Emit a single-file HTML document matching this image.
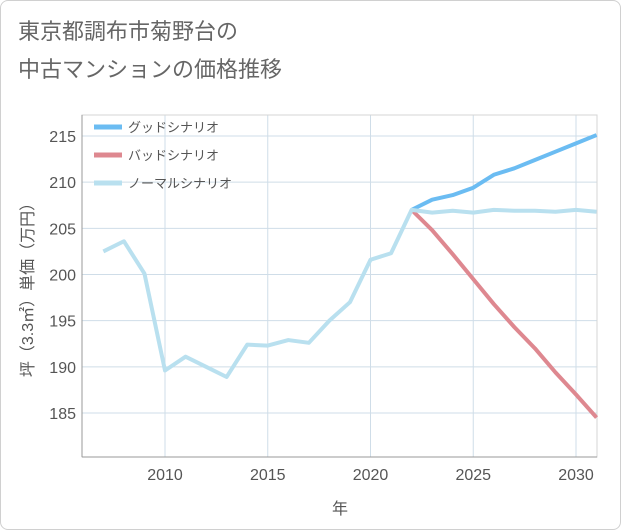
<!DOCTYPE html>
<html><head><meta charset="utf-8"><style>
body{margin:0;background:#fff;font-family:"Liberation Sans","Noto Sans CJK JP",sans-serif}
.card{position:absolute;left:0;top:0;width:619px;height:528px;border:1px solid #d0d0d0;border-radius:8px;background:#fff}
</style></head><body>
<div class="card"></div>
<svg width="621" height="530" style="position:absolute;left:0;top:0">
<text x="18" y="39" font-size="22" fill="#666">東京都調布市菊野台の</text>
<text x="18" y="77" font-size="22" fill="#666">中古マンションの価格推移</text>
<g id="grid"></g>
<rect x="82" y="115" width="515" height="342" fill="none" stroke="#d5d5d5"/>
<line x1="82" y1="115" x2="82" y2="457" stroke="#999"/>
<line x1="82" y1="457" x2="597" y2="457" stroke="#999"/>
<g id="series"></g>
<g id="ticks" font-size="16" fill="#555"></g>
<text x="340" y="514" font-size="16" fill="#555" text-anchor="middle">年</text>
<text transform="translate(33,286) rotate(-90)" font-size="16" fill="#555" text-anchor="middle">坪（3.3㎡）単価（万円）</text>
<g id="legend" font-size="13" fill="#555"></g>
</svg>
<script>
const years=[2007,2008,2009,2010,2011,2012,2013,2014,2015,2016,2017,2018,2019,2020,2021,2022,2023,2024,2025,2026,2027,2028,2029,2030,2031];
const normal=[202.5,203.6,200.1,189.6,191.1,190.0,188.9,192.4,192.3,192.9,192.6,195.0,197.0,201.6,202.3,207.0,206.7,206.9,206.7,207.0,206.9,206.9,206.8,207.0,206.8];
const goodYears=[2022,2023,2024,2025,2026,2027,2028,2029,2030,2031];
const good=[207.0,208.1,208.6,209.4,210.8,211.5,212.4,213.3,214.2,215.1];
const bad=[207.0,204.8,202.2,199.5,196.8,194.3,192.0,189.4,187.0,184.5];
const xTicks=[2010,2015,2020,2025,2030];
const yTicks=[185,190,195,200,205,210,215];
const X=y=>165+(y-2010)*20.55;
const Y=v=>136+(215-v)*9.233;
const NS="http://www.w3.org/2000/svg";
function mk(t,a,p){const e=document.createElementNS(NS,t);for(const k in a)e.setAttribute(k,a[k]);p.appendChild(e);return e;}
const grid=document.getElementById('grid'),ticks=document.getElementById('ticks');
xTicks.forEach(t=>{
 const l=mk('line',{x1:X(t),x2:X(t),y1:115,y2:457,stroke:'#cfdde8'},grid);
 
 
});
yTicks.forEach(t=>{
 const l=mk('line',{x1:82,x2:597,y1:Y(t),y2:Y(t),stroke:'#cfdde8'},grid);
 
 
});
xTicks.forEach(t=>{const e=mk('text',{x:X(t),y:480,'text-anchor':'middle'},ticks);e.textContent=t;
 
 });
yTicks.forEach(t=>{const e=mk('text',{x:76,y:Y(t)+6,'text-anchor':'end'},ticks);e.textContent=t;
 
 });
const s=document.getElementById('series');
function line(xs,vs,c,n){const p=mk('polyline',{points:xs.map((y,i)=>X(y)+','+Y(vs[i])).join(' '),fill:'none',stroke:c,'stroke-width':4,'stroke-linejoin':'round'},s);
 
 }
line(goodYears,good,'#6bbcf2','good-scenario-line');
line(goodYears,bad,'#de8890','bad-scenario-line');
line(years,normal,'#b9e0ef','normal-scenario-line');
const lg=document.getElementById('legend');
[['グッドシナリオ','#6bbcf2'],['バッドシナリオ','#de8890'],['ノーマルシナリオ','#b9e0ef']].forEach((d,i)=>{
 const y=127+i*28;
 const l=mk('line',{x1:94,x2:122,y1:y,y2:y,stroke:d[1],'stroke-width':5},lg);
 
 
 const t=mk('text',{x:128,y:y+5},lg);t.textContent=d[0];
 
 
});
</script>
</body></html>
